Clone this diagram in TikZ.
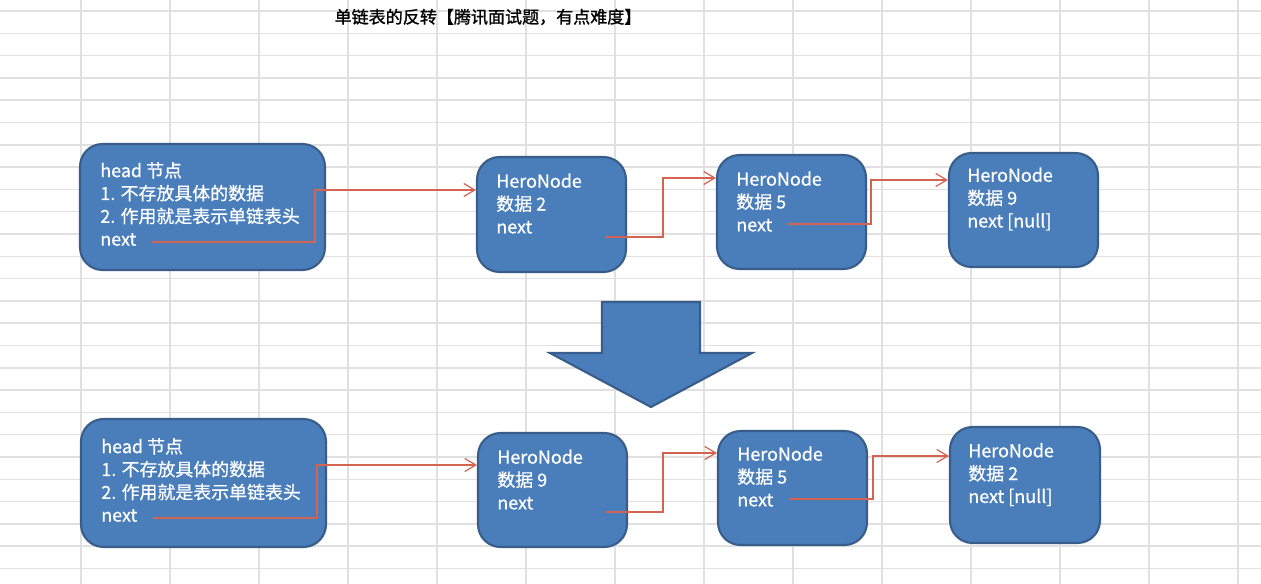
\documentclass[tikz,border=0pt]{standalone}
\usepackage{fontspec}
\setmainfont{Noto Sans CJK SC}
\newfontfamily\heavier[FakeBold=0.6]{Noto Sans CJK SC}
\newfontfamily\titlefont[FakeBold=1.2]{Noto Sans CJK SC}
\usetikzlibrary{arrows.meta}
\definecolor{boxfill}{HTML}{4A7EBB}
\definecolor{boxline}{HTML}{385D8A}
\definecolor{linkred}{HTML}{D4634F}
\definecolor{gridgray}{HTML}{E0E0E0}
\begin{document}
\begin{tikzpicture}[x=0.02cm,y=-0.02cm,
  box/.style={draw=boxline, fill=boxfill, line width=1.2pt, rounded corners=0.45cm, minimum width=2.98cm, inner sep=0pt},
  hdbox/.style={box, minimum width=4.9cm},
  txt/.style={text=white, align=left, anchor=west, inner sep=0pt, font=\heavier\fontsize{10.2}{13}\selectfont},
  link/.style={draw=linkred, line width=0.7pt, -{Straight Barb[length=2.2mm,width=2.6mm]}},
  gridline/.style={draw=gridgray, line width=0.9pt},
  bigarrow/.style={draw=boxline, fill=boxfill, line width=1.2pt, line join=miter}]
\fill[white] (0,0) rectangle (1261,584);
\useasboundingbox (0,0) rectangle (1261,584);
% spreadsheet grid
\foreach \k in {0,...,25} \draw[gridline] (0,{11+22.3*\k}) -- (1261,{11+22.3*\k});
\foreach \k in {0,...,13} \draw[gridline] ({81+89*\k},0) -- ({81+89*\k},584);
% title
\node[font=\titlefont\fontsize{9.7}{12}\selectfont, inner sep=0pt] (title) at (488,17) {单链表的反转【腾讯面试题，有点难度】};
% ---------- top row ----------
\node[hdbox, minimum height=2.52cm] (hd1) at (202.5,207) {};
\node[txt] (hd1t) at (100,204) {head 节点\\1. 不存放具体的数据\\2. 作用就是表示单链表头\\next};
\node[box, minimum height=2.30cm] (a1) at (551.5,214.5) {};
\node[txt] (a1t) at (496,203.5) {HeroNode\\数据 2\\next};
\node[box, minimum height=2.28cm] (b1) at (791.5,212) {};
\node[txt] (b1t) at (736,201.5) {HeroNode\\数据 5\\next};
\node[box, minimum height=2.28cm] (c1) at (1023.5,210) {};
\node[txt] (c1t) at (967,199) {HeroNode\\数据 9\\next [null]};
\coordinate (s0) at (152,242); \coordinate (k0) at (315,190);
\coordinate (s1) at (605,237); \coordinate (k1) at (663,178);
\coordinate (s2) at (787,224); \coordinate (k2) at (871,180);
\draw[link] (s0) -| (k0) -- (k0 -| a1.west);
\draw[link] (s1) -| (k1) -- (k1 -| b1.west);
\draw[link] (s2) -| (k2) -- (k2 -| c1.west);
% ---------- big down arrow ----------
\draw[bigarrow] (602,302) -- (700,302) -- (700,353) -- (752,353) -- (651,407) -- (550,353) -- (602,353) -- cycle;
% ---------- bottom row ----------
\node[hdbox, minimum height=2.56cm] (hd2) at (203.5,483) {};
\node[txt] (hd2t) at (101,480) {head 节点\\1. 不存放具体的数据\\2. 作用就是表示单链表头\\next};
\node[box, minimum height=2.28cm] (a2) at (552.5,490) {};
\node[txt] (a2t) at (497,479.5) {HeroNode\\数据 9\\next};
\node[box, minimum height=2.28cm] (b2) at (792.5,488) {};
\node[txt] (b2t) at (737,476.5) {HeroNode\\数据 5\\next};
\node[box, minimum width=3.0cm, minimum height=2.32cm] (c2) at (1025,485) {};
\node[txt] (c2t) at (968,474.5) {HeroNode\\数据 2\\next [null]};
\coordinate (t0) at (153,518); \coordinate (m0) at (317,465);
\coordinate (t1) at (606,512); \coordinate (m1) at (663,453);
\coordinate (t2) at (790,499); \coordinate (m2) at (873,456);
\draw[link] (t0) -| (m0) -- (m0 -| a2.west);
\draw[link] (t1) -| (m1) -- (m1 -| b2.west);
\draw[link] (t2) -| (m2) -- (m2 -| c2.west);
\end{tikzpicture}
\end{document}
